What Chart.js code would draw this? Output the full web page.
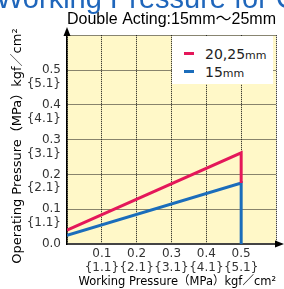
<!DOCTYPE html>
<html><head><meta charset="utf-8">
<script src="https://cdn.jsdelivr.net/npm/chart.js@4/dist/chart.umd.min.js"></script>
<style>
html,body{margin:0;padding:0;background:#fff;overflow:hidden;}
#wrap{position:relative;width:284px;height:289px;}
#c{position:absolute;left:0;top:0;}
#header{position:absolute;left:-4px;top:-17px;font:29px 'Liberation Sans',Arial,sans-serif;color:#1f66bb;white-space:nowrap;line-height:30px;}
#legend{position:absolute;left:172px;top:36px;width:101px;height:48px;background:#fff;font-family:'DejaVu Sans',sans-serif;color:#222;}
.item{position:absolute;left:0;width:101px;height:18px;}
.swatch{position:absolute;left:12px;top:7px;width:10px;height:3px;}
.lbl{position:absolute;left:33px;top:0;font-size:14px;line-height:18px;white-space:nowrap;}
.lbl small{font-size:11px;}
</style></head><body>
<div id="wrap">
<canvas id="c" width="284" height="289"></canvas>
<div id="header">Working Pressure for Cylinder</div>
<div id="legend"></div>
</div>
<script>
// ---- data ----
const seriesNames = ["20,25mm", "15mm"];
const seriesColors = ["#e4175a", "#1b6dbb"];
const redX = [0, 0.5, 0.5];
const redY = [0.04, 0.262, 0.175];
const blueX = [0, 0.5, 0.5];
const blueY = [0.025, 0.175, 0];
const tickValues = [0, 0.1, 0.2, 0.3, 0.4, 0.5, 0.6];
const xTickLabels = ["", ["0.1", "{1.1}"], ["0.2", "{2.1}"], ["0.3", "{3.1}"], ["0.4", "{4.1}"], ["0.5", "{5.1}"], ""];
const yTickLabels = [["0.0", ""], ["0.1", "{1.1}"], ["0.2", "{2.1}"], ["0.3", "{3.1}"], ["0.4", "{4.1}"], ["0.5", "{5.1}"], ""];
const chartTitle = "Double Acting:15mm～25mm";
const xTitle = "Working Pressure（MPa）kgf／cm²";
const yTitle = "Operating Pressure（MPa）kgf／cm²";

const toPts = (xs, ys) => xs.map((x, i) => ({x: x, y: ys[i]}));

const bgPlugin = {
  id: 'bg',
  beforeDraw(chart) {
    const a = chart.chartArea, ctx = chart.ctx;
    ctx.save();
    ctx.fillStyle = '#fff8c8';
    ctx.fillRect(a.left, a.top, a.right - a.left, a.bottom - a.top);
    ctx.restore();
  }
};
const arrowPlugin = {
  id: 'arrows',
  afterDraw(chart) {
    const a = chart.chartArea, ctx = chart.ctx;
    ctx.save();
    ctx.fillStyle = '#000';
    ctx.beginPath();
    ctx.moveTo(a.left, 27); ctx.lineTo(a.left - 3.5, 36); ctx.lineTo(a.left + 3.5, 36); ctx.closePath(); ctx.fill();
    ctx.beginPath();
    ctx.moveTo(284, a.bottom); ctx.lineTo(275, a.bottom - 3.5); ctx.lineTo(275, a.bottom + 3.5); ctx.closePath(); ctx.fill();
    ctx.restore();
  }
};

const fontTick = {family: "'DejaVu Sans','Noto Sans CJK JP',sans-serif", size: 12, lineHeight: 1.15};
const fontXTitle = {family: "'DejaVu Sans','Noto Sans CJK JP',sans-serif", size: 12};
const fontYTitle = {family: "'DejaVu Sans','Noto Sans CJK JP',sans-serif", size: 13};

new Chart(document.getElementById('c'), {
  type: 'scatter',
  data: {
    datasets: [
      {label: seriesNames[0], data: toPts(redX, redY), showLine: true, borderColor: seriesColors[0], borderWidth: 3, pointRadius: 0, borderJoinStyle: 'miter', fill: false},
      {label: seriesNames[1], data: toPts(blueX, blueY), showLine: true, borderColor: seriesColors[1], borderWidth: 3, pointRadius: 0, borderJoinStyle: 'miter', fill: false}
    ]
  },
  options: {
    responsive: false,
    animation: false,
    devicePixelRatio: 1,
    layout: {padding: {left: 0, right: 8, top: 0, bottom: 0}},
    plugins: {
      legend: {display: false},
      tooltip: {enabled: false},
      title: {display: true, text: chartTitle, align: 'start', fullSize: false, color: '#000',
        font: {family: "'Liberation Sans','Noto Sans CJK JP',sans-serif", size: 16, weight: 'normal'},
        padding: {top: 10, bottom: 6}}
    },
    scales: {
      x: {
        type: 'linear', min: 0, max: 0.6,
        afterBuildTicks: s => { s.ticks = tickValues.map(v => ({value: v})); },
        afterFit: s => { s.height = 45; },
        ticks: {callback: (v, i) => xTickLabels[i], color: '#333', font: fontTick, padding: 3, maxRotation: 0, autoSkip: false},
        grid: {color: '#111', lineWidth: 1, drawTicks: false},
        border: {display: true, color: '#444', width: 2, dash: [1, 1]},
        title: {display: true, text: '\u2003' + xTitle, color: '#000', font: fontXTitle, padding: {top: 0, bottom: 0}}
      },
      y: {
        type: 'linear', min: 0, max: 0.6,
        afterBuildTicks: s => { s.ticks = tickValues.map(v => ({value: v})); },
        afterFit: s => { s.width = 67; },
        ticks: {callback: (v, i) => yTickLabels[i], color: '#333', font: fontTick, padding: 6, labelOffset: 7, autoSkip: false},
        grid: {color: '#111', lineWidth: 1, drawTicks: false},
        border: {display: true, color: '#000', width: 1.5, dash: [1, 1]},
        title: {display: true, text: yTitle + '\u2003', color: '#000', font: fontYTitle, padding: {top: 10, bottom: 0}}
      }
    }
  },
  plugins: [bgPlugin, arrowPlugin]
});

// HTML legend built from the series arrays
const leg = document.getElementById('legend');
seriesNames.forEach((name, i) => {
  const item = document.createElement('div');
  item.className = 'item';
  item.style.top = (9 + i * 17.5) + 'px';
  const sw = document.createElement('div');
  sw.className = 'swatch';
  sw.style.background = seriesColors[i];
  const lbl = document.createElement('div');
  lbl.className = 'lbl';
  const m = name.match(/^(.*?)(mm)$/);
  if (m) {
    lbl.appendChild(document.createTextNode(m[1]));
    const s = document.createElement('small');
    s.textContent = m[2];
    lbl.appendChild(s);
  } else {
    lbl.textContent = name;
  }
  item.appendChild(sw);
  item.appendChild(lbl);
  leg.appendChild(item);
});
</script>
</body></html>
